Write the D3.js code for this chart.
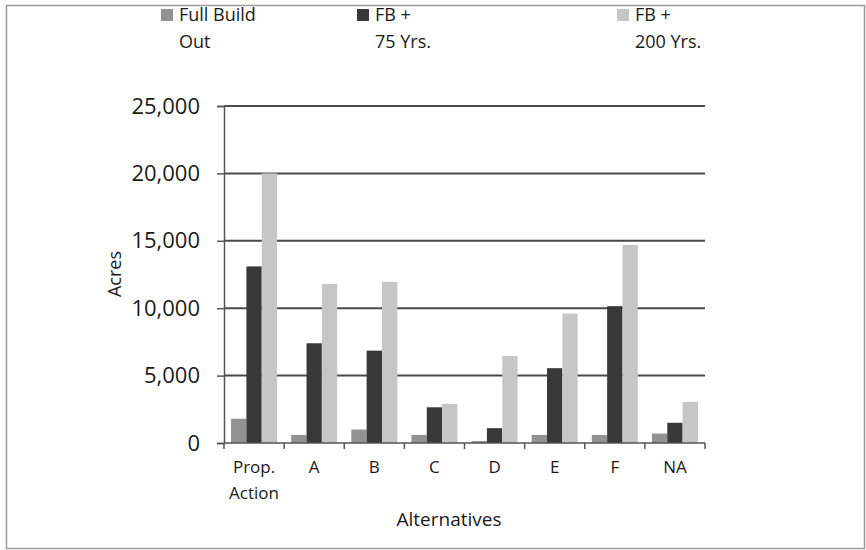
<!DOCTYPE html>
<html>
<head>
<meta charset="utf-8">
<script src="https://cdn.jsdelivr.net/npm/d3@7"></script>
<style>
  body { margin: 0; background: #fff; }
  svg text { font-family: "Open Sans", sans-serif; fill: #1a1a1a; }
</style>
</head>
<body>
<svg id="chart" width="866" height="550"></svg>
<script>
// categories and series
const categories = ['Prop.\nAction', 'A', 'B', 'C', 'D', 'E', 'F', 'NA'];
const seriesNames = ['Full Build\nOut', 'FB +\n75 Yrs.', 'FB +\n200 Yrs.'];
const fullBuild = [1800, 600, 1000, 600, 150, 600, 600, 700];
const fb75 = [13100, 7400, 6850, 2650, 1100, 5550, 10150, 1500];
const fb200 = [20000, 11800, 11950, 2900, 6450, 9600, 14700, 3050];
const yTicks = [0, 5000, 10000, 15000, 20000, 25000];
const colors = ['#929292', '#383838', '#c6c6c6'];

const series = [fullBuild, fb75, fb200];

const svg = d3.select('#chart');

// outer frame
svg.append('rect')
  .attr('x', 6.5).attr('y', 5.5)
  .attr('width', 858).attr('height', 543)
  .attr('fill', 'none')
  .attr('stroke', '#9a9a9a')
  .attr('stroke-width', 1.5);

const margin = { left: 224, right: 161, top: 106, bottom: 107 };
const width = 866 - margin.left - margin.right;
const height = 550 - margin.top - margin.bottom;

const g = svg.append('g').attr('transform', `translate(${margin.left},${margin.top})`);

const x = d3.scaleBand().domain(d3.range(categories.length)).range([0, width]).paddingInner(0).paddingOuter(0);
const x1 = d3.scaleBand().domain(d3.range(series.length)).range([0, x.bandwidth()]).paddingOuter(0.46).paddingInner(0);
const y = d3.scaleLinear().domain([0, 25000]).range([height, 0]);

// gridlines
g.selectAll('.grid')
  .data(yTicks.filter(d => d > 0))
  .join('line')
  .attr('x1', 0).attr('x2', width)
  .attr('y1', d => y(d)).attr('y2', d => y(d))
  .attr('stroke', '#4a4a4a')
  .attr('stroke-width', 2);

// bars
const groups = g.selectAll('.cat')
  .data(categories)
  .join('g')
  .attr('transform', (d, i) => `translate(${x(i)},0)`);

groups.selectAll('rect')
  .data((d, i) => series.map((s, k) => ({ k, v: s[i] })))
  .join('rect')
  .attr('x', d => x1(d.k))
  .attr('width', x1.bandwidth())
  .attr('y', d => y(d.v))
  .attr('height', d => y(0) - y(d.v))
  .attr('fill', d => colors[d.k]);

// y axis
const yAxis = g.append('g')
  .call(d3.axisLeft(y).tickValues(yTicks).tickSize(7).tickPadding(17).tickFormat(d3.format(',')));
yAxis.select('.domain').attr('stroke', '#555').attr('stroke-width', 1.5);
yAxis.selectAll('.tick line').attr('stroke', '#555').attr('stroke-width', 1.5);
yAxis.selectAll('.tick text')
  .style('font-size', '22px')
  .attr('fill', '#1a1a1a');

// x axis
const xEdges = d3.range(categories.length + 1).map(i => i * x.step());
const xAxis = g.append('g').attr('transform', `translate(0,${height})`);
xAxis.append('line')
  .attr('x1', 0).attr('x2', width)
  .attr('stroke', '#555').attr('stroke-width', 1.5);
xAxis.selectAll('.xtick')
  .data(xEdges)
  .join('line')
  .attr('x1', d => d).attr('x2', d => d)
  .attr('y1', 0).attr('y2', 6)
  .attr('stroke', '#555').attr('stroke-width', 1.5);

xAxis.selectAll('.xlab')
  .data(categories)
  .join('text')
  .attr('x', (d, i) => x(i) + x.bandwidth() / 2)
  .attr('y', 30)
  .attr('text-anchor', 'middle')
  .style('font-size', '17px')
  .each(function(d) {
    const lines = d.split('\n');
    d3.select(this).selectAll('tspan')
      .data(lines)
      .join('tspan')
      .attr('x', d3.select(this).attr('x'))
      .attr('dy', (l, j) => j === 0 ? 0 : 26)
      .text(l => l);
  });

// axis titles
svg.append('text')
  .attr('x', 449)
  .attr('y', 526)
  .attr('text-anchor', 'middle')
  .style('font-size', '19px')
  .text('Alternatives');

svg.append('text')
  .attr('transform', 'translate(121,274) rotate(-90)')
  .attr('text-anchor', 'middle')
  .style('font-size', '18px')
  .text('Acres');

// legend
const legendX = [161, 357, 617];
const legend = svg.selectAll('.legend')
  .data(seriesNames)
  .join('g')
  .attr('transform', (d, i) => `translate(${legendX[i]},0)`);

legend.append('rect')
  .attr('x', 0).attr('y', 9)
  .attr('width', 12).attr('height', 12)
  .attr('fill', (d, i) => colors[i]);

legend.append('text')
  .attr('x', 18)
  .attr('y', 21)
  .style('font-size', '18px')
  .each(function(d) {
    d3.select(this).selectAll('tspan')
      .data(d.split('\n'))
      .join('tspan')
      .attr('x', 18)
      .attr('dy', (l, j) => j === 0 ? 0 : 27)
      .text(l => l);
  });
</script>
</body>
</html>
